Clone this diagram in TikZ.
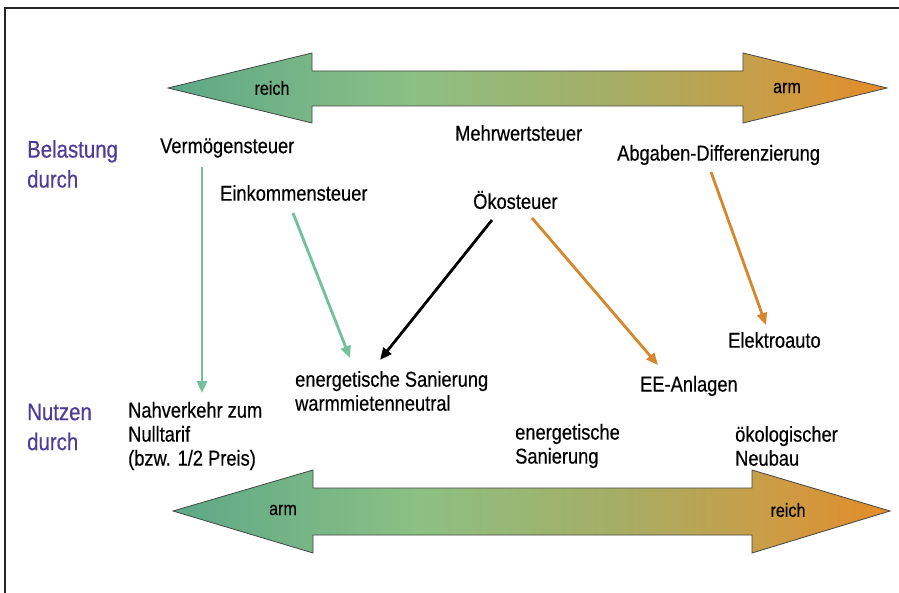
\documentclass[tikz,border=0pt]{standalone}
\usepackage{fontspec}
\setmainfont{Liberation Sans}[FakeStretch=0.85,FakeBold=0.4]
\usetikzlibrary{arrows.meta,calc}
\definecolor{cA}{RGB}{92,168,136}
\definecolor{cB}{RGB}{140,192,132}
\definecolor{cC}{RGB}{168,172,98}
\definecolor{cD}{RGB}{200,158,72}
\definecolor{cE}{RGB}{228,140,40}
\definecolor{purp}{RGB}{78,60,150}
\definecolor{lgreen}{RGB}{115,192,155}
\definecolor{orng}{RGB}{214,135,44}
\definecolor{outl}{RGB}{70,70,70}
\pgfdeclarehorizontalshading{bandshade}{100bp}{color(0bp)=(cA); color(25bp)=(cA); color(42bp)=(cB); color(57bp)=(cC); color(66bp)=(cD); color(75bp)=(cE); color(100bp)=(cE)}
\begin{document}
\begin{tikzpicture}[x=1pt,y=-1pt,
  lbl/.style={inner sep=0pt,anchor=west,align=left,font=\fontsize{21.5}{24}\selectfont},
  side/.style={inner sep=0pt,anchor=west,align=left,text=purp,font=\fontsize{24}{30}\selectfont},
  small/.style={inner sep=0pt,font=\fontsize{19}{20}\selectfont},
  band/.style={draw=outl,line width=0.8pt,shading=bandshade},
  conn/.style={line width=2.8pt,-{Triangle[length=12pt,width=10pt]}}]
\useasboundingbox (0,0) rectangle (899,593);
\fill[white] (0,0) rectangle (899,593);
\draw[line width=2pt,black!85] (5,593) -- (5,8) -- (899,8);

% top band arrow
\path[band] (168,88) -- (312,53) -- (312,71) -- (743,71) -- (743,53) -- (887,88)
  -- (743,123) -- (743,106) -- (312,106) -- (312,123) -- cycle;
% bottom band arrow
\path[band] (173,511) -- (313,470) -- (313,488) -- (752,488) -- (752,470) -- (890,511)
  -- (752,553) -- (752,535) -- (313,535) -- (313,553) -- cycle;

\node[small] (treich) at (272,88) {reich};
\node[small] (tarm) at (787,88) {arm};
\node[small] (barm) at (283,510) {arm};
\node[small] (breich) at (788,510) {reich};

\node[side] (belast) at (27,164) {Belastung\\durch};
\node[side] (nutzen) at (27,427) {Nutzen\\durch};

\node[lbl] (verm) at (160,148) {Vermögensteuer};
\node[lbl] (eink) at (220,193) {Einkommensteuer};
\node[lbl] (mwst) at (455,133) {Mehrwertsteuer};
\node[lbl] (oeko) at (473,200) {Ökosteuer};
\node[lbl] (abg) at (617,155) {Abgaben-Differenzierung};
\node[lbl] (elek) at (728,340) {Elektroauto};
\node[lbl] (ee) at (640,386) {EE-Anlagen};
\node[lbl] (esan) at (295,391) {energetische Sanierung\\warmmietenneutral};
\node[lbl] (nahv) at (128,436) {Nahverkehr zum\\Nulltarif\\(bzw. 1/2 Preis)};
\node[lbl] (esan2) at (515,446) {energetische\\Sanierung};
\node[lbl] (neubau) at (735,446) {ökologischer\\Neubau};

\draw[conn,lgreen] ([shift={(42,19)}]verm.west) -- ([shift={(74,-43)}]nahv.west);
\draw[conn,lgreen] ([shift={(73,20)}]eink.west) -- ([shift={(55,-33)}]esan.west);
\draw[conn,black] ([shift={(19,20)}]oeko.west) -- ([shift={(85,-31)}]esan.west);
\draw[conn,orng] ([shift={(59,18)}]oeko.west) -- ([shift={(18,-21)}]ee.west);
\draw[conn,orng] ([shift={(94,17)}]abg.west) -- ([shift={(38,-15)}]elek.west);
\end{tikzpicture}
\end{document}
